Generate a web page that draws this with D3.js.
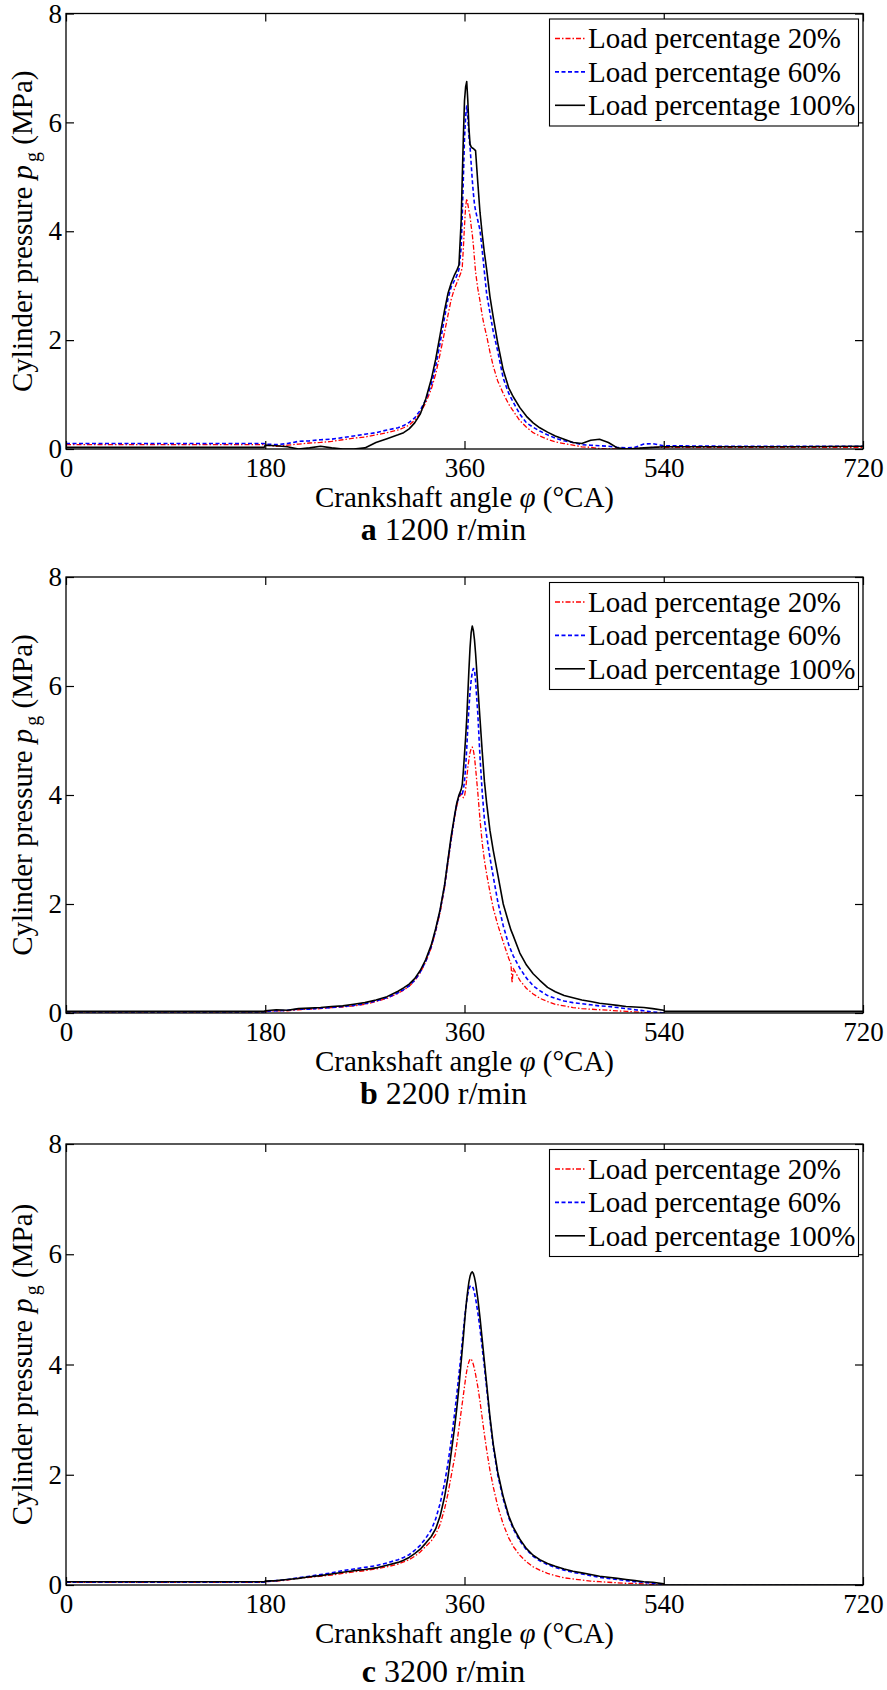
<!DOCTYPE html>
<html>
<head>
<meta charset="utf-8">
<script src="https://cdn.jsdelivr.net/npm/d3@7"></script>
<style>
  body { margin: 0; background: #fff; }
  svg text { font-family: "Liberation Serif", "Times New Roman", serif; fill: #000; }
</style>
</head>
<body>
<div class="plot-container"></div>
<script>
// *************************************
// DATA
// *************************************

const crankAngles = [
  0, 90, 179, 180,
  190, 200, 210, 220, 230, 240, 250, 260, 270, 280, 290, 300,
  305, 310, 315, 320, 325, 330,
  334, 338, 342, 345, 348, 351, 353, 355, 357, 358, 359,
  360, 361, 362, 363, 364, 365, 366, 367, 368, 369, 370,
  372, 374, 376, 378, 380,
  383, 386, 390, 395,
  400, 402, 403, 404,
  410, 416, 422, 428, 435, 442, 450, 458, 466, 474, 482, 490, 498, 506, 514, 522, 530,
  540, 541, 600, 660, 720
];

// a: 1200 r/min
const load20At1200 = [
  0.08, 0.08, 0.08, 0.07,
  0.05, 0.07, 0.09, 0.11, 0.12, 0.14, 0.17, 0.2, 0.22, 0.26, 0.3, 0.35,
  0.39, 0.44, 0.53, 0.66, 0.85, 1.1,
  1.38, 1.75, 2.15, 2.45, 2.75, 2.95, 3.05, 3.15, 3.25, 3.35, 3.7,
  4.1, 4.45, 4.6, 4.5, 4.38, 4.28, 4.1, 3.95, 3.75, 3.5, 3.25,
  2.95, 2.72, 2.45, 2.25, 2.08,
  1.78, 1.52, 1.25, 1.02,
  0.82, 0.76, 0.73, 0.7,
  0.52, 0.4, 0.3, 0.24, 0.18, 0.13, 0.1, 0.07, 0.04, 0.03, 0.01, 0.0, 0.0, 0.0, 0.01, 0.02, 0.03,
  0.03, 0.03, 0.03, 0.03, 0.03
];
const load60At1200 = [
  0.1, 0.1, 0.1, 0.09,
  0.08, 0.1, 0.14, 0.15, 0.17, 0.18, 0.21, 0.24, 0.27, 0.3, 0.35, 0.39,
  0.43, 0.49, 0.57, 0.71, 0.9, 1.18,
  1.52, 1.95, 2.42, 2.75, 2.98, 3.1, 3.18, 3.3, 3.7, 4.3, 5.0,
  5.7, 6.1, 6.3, 6.1, 5.75, 5.55, 5.25, 4.95, 4.7, 4.5, 4.38,
  4.2, 4.02, 3.65, 3.25, 2.85,
  2.5, 2.15, 1.8, 1.3,
  1.02, 0.94, 0.9, 0.86,
  0.64, 0.48, 0.4, 0.33, 0.26, 0.2, 0.15, 0.12, 0.08, 0.07, 0.06, 0.05, 0.03, 0.02, 0.03, 0.09, 0.1,
  0.06, 0.06, 0.05, 0.05, 0.05
];
const load100At1200 = [
  0.03, 0.03, 0.03, 0.07,
  0.06, 0.04, 0.0, 0.02, 0.05, 0.02, 0.0, 0.0, 0.02, 0.12, 0.19, 0.26,
  0.3, 0.37, 0.48, 0.64, 0.92, 1.28,
  1.65, 2.1, 2.55, 2.85, 3.05, 3.2, 3.28, 3.38, 4.2, 5.0, 5.75,
  6.4, 6.65, 6.75, 6.4, 5.9, 5.6, 5.55, 5.53, 5.52, 5.5, 5.48,
  4.9, 4.35, 3.95, 3.6, 3.3,
  2.8, 2.42, 1.95, 1.45,
  1.12, 1.04, 1.0, 0.96,
  0.76, 0.6, 0.48, 0.39, 0.31, 0.24, 0.18, 0.12, 0.1, 0.16, 0.18, 0.12, 0.02, 0.0, 0.01, 0.02, 0.03,
  0.04, 0.04, 0.04, 0.04, 0.05
];

// b: 2200 r/min
const load20At2200 = [
  0.02, 0.02, 0.02, 0.03,
  0.04, 0.04, 0.06, 0.07, 0.08, 0.1, 0.11, 0.13, 0.16, 0.21, 0.27, 0.36,
  0.42, 0.49, 0.59, 0.74, 0.94, 1.2,
  1.5, 1.85, 2.3, 2.75, 3.18, 3.58, 3.8, 3.95, 4.02, 3.98, 3.95,
  3.98, 4.1, 4.3, 4.5, 4.65, 4.78, 4.85, 4.88, 4.82, 4.7, 4.5,
  4.05, 3.55, 3.12, 2.8, 2.55,
  2.22, 1.92, 1.62, 1.3,
  1.0, 0.9, 0.55, 0.82,
  0.6, 0.45, 0.35, 0.27, 0.21, 0.16, 0.13, 0.1, 0.08, 0.07, 0.06, 0.05, 0.04, 0.03, 0.02, 0.01, 0.0,
  -0.01, -0.03, -0.03, -0.03, -0.03
];
const load60At2200 = [
  0.02, 0.02, 0.02, 0.03,
  0.04, 0.05, 0.07, 0.07, 0.09, 0.1, 0.12, 0.14, 0.17, 0.22, 0.28, 0.37,
  0.43, 0.5, 0.6, 0.75, 0.95, 1.22,
  1.52, 1.88, 2.33, 2.78, 3.2, 3.6, 3.83, 3.98, 4.05, 4.02, 4.1,
  4.25, 4.5, 4.85, 5.25, 5.6, 5.9, 6.1, 6.25, 6.32, 6.3, 6.1,
  5.5, 4.7, 4.05, 3.55, 3.25,
  2.85, 2.5, 2.05, 1.6,
  1.25, 1.15, 1.1, 1.05,
  0.82, 0.64, 0.5, 0.41, 0.32, 0.27, 0.22, 0.19, 0.17, 0.15, 0.13, 0.12, 0.1, 0.08, 0.06, 0.04, 0.02,
  0.0, -0.03, -0.03, -0.03, -0.03
];
const load100At2200 = [
  0.03, 0.03, 0.03, 0.04,
  0.06, 0.05, 0.08, 0.09, 0.1, 0.12, 0.13, 0.16, 0.19, 0.24, 0.3, 0.4,
  0.46, 0.53, 0.63, 0.78, 0.98, 1.25,
  1.55, 1.9, 2.35, 2.8, 3.25, 3.62, 3.85, 4.0, 4.1, 4.2, 4.45,
  4.75, 5.05, 5.4, 5.85, 6.3, 6.7, 6.98, 7.1, 7.02, 6.85, 6.6,
  6.0, 5.4, 4.8, 4.25, 3.85,
  3.35, 2.98, 2.55, 2.0,
  1.65, 1.52, 1.47, 1.42,
  1.1, 0.88, 0.72, 0.6, 0.47, 0.39, 0.32, 0.28, 0.24, 0.21, 0.18, 0.16, 0.14, 0.12, 0.11, 0.1, 0.08,
  0.05, 0.03, 0.03, 0.03, 0.03
];

// c: 3200 r/min
const load20At3200 = [
  0.05, 0.05, 0.05, 0.06,
  0.07, 0.09, 0.12, 0.14, 0.16, 0.18, 0.21, 0.24, 0.26, 0.29, 0.33, 0.38,
  0.42, 0.46, 0.52, 0.6, 0.7, 0.8,
  0.92, 1.1, 1.38, 1.65, 1.98, 2.3, 2.55, 2.85, 3.15, 3.3, 3.45,
  3.6, 3.75, 3.88, 3.98, 4.05, 4.1, 4.1, 4.06, 4.0, 3.92, 3.82,
  3.6, 3.33, 3.03, 2.73, 2.45,
  2.08, 1.78, 1.43, 1.1,
  0.85, 0.78, 0.74, 0.7,
  0.54, 0.42, 0.33, 0.27, 0.21, 0.17, 0.13, 0.11, 0.09, 0.07, 0.06, 0.05, 0.04, 0.03, 0.03, 0.02, 0.01,
  0.0, -0.01, -0.01, -0.01, -0.01
];
const load60At3200 = [
  0.05, 0.05, 0.05, 0.06,
  0.08, 0.1, 0.13, 0.16, 0.19, 0.22, 0.26, 0.29, 0.32, 0.35, 0.4, 0.46,
  0.5, 0.55, 0.63, 0.72, 0.85, 1.0,
  1.2, 1.48, 1.85, 2.2, 2.62, 3.1, 3.45, 3.82, 4.2, 4.42, 4.62,
  4.82, 5.0, 5.15, 5.28, 5.37, 5.42, 5.43, 5.42, 5.38, 5.3, 5.2,
  4.95, 4.65, 4.3, 3.95, 3.57,
  3.0, 2.5, 2.0, 1.56,
  1.22, 1.12, 1.07, 1.02,
  0.8, 0.64, 0.52, 0.44, 0.37, 0.32, 0.27, 0.23, 0.2, 0.17, 0.14, 0.12, 0.1, 0.08, 0.06, 0.05, 0.03,
  0.01, -0.01, -0.01, -0.01, -0.01
];
const load100At3200 = [
  0.06, 0.06, 0.06, 0.07,
  0.08, 0.1, 0.12, 0.15, 0.17, 0.2, 0.23, 0.26, 0.28, 0.31, 0.36, 0.41,
  0.45, 0.5, 0.57, 0.65, 0.76, 0.88,
  1.02, 1.25, 1.6, 1.95, 2.4, 2.85, 3.2, 3.6, 4.05, 4.28, 4.5,
  4.75, 4.98, 5.18, 5.35, 5.5, 5.6, 5.66, 5.68, 5.65, 5.58, 5.48,
  5.2, 4.85, 4.45, 4.05, 3.65,
  3.05, 2.55, 2.05, 1.6,
  1.25, 1.15, 1.1, 1.05,
  0.83, 0.66, 0.54, 0.46, 0.39, 0.34, 0.29, 0.25, 0.22, 0.19, 0.16, 0.14, 0.12, 0.1, 0.08, 0.06, 0.05,
  0.02, 0.0, 0.0, 0.0, 0.0
];

const loadLabels = ["Load percentage 20%", "Load percentage 60%", "Load percentage 100%"];
const speedLabels = ["1200 r/min", "2200 r/min", "3200 r/min"];
const panelLetters = ["a", "b", "c"];
const xTicks = [0, 180, 360, 540, 720];
const yTicks = [0, 2, 4, 6, 8];

const pressureByPanel = [
  [load20At1200, load60At1200, load100At1200],
  [load20At2200, load60At2200, load100At2200],
  [load20At3200, load60At3200, load100At3200]
];

// *************************************
// LAYOUT AND STYLE
// *************************************

const width = 887, height = 1690;
const plotLeft = 66, plotRight = 863;
const panelTops = [13.5, 577, 1144];
const panelBottoms = [449, 1013, 1585];
const captionOffsets = [91, 91, 97]; // caption baseline below the x axis

const seriesStyles = [
  { color: "#ff0000", dash: "5,2,1.5,2", width: 1.3 },
  { color: "#0000ff", dash: "4,2.5", width: 1.6 },
  { color: "#000000", dash: null, width: 1.6 }
];

pressureByPanel.flat().forEach((values, i) => {
  if (values.length !== crankAngles.length) {
    throw new Error(`series ${i} has ${values.length} values, expected ${crankAngles.length}`);
  }
});

const svg = d3.select("div.plot-container")
              .append("svg")
              .attr("width", width)
              .attr("height", height);

const x = d3.scaleLinear().domain([0, 720]).range([plotLeft, plotRight]);

// *************************************
// PANELS
// *************************************

let styleAxis = (g, size) => {
  g.attr("font-family", '"Liberation Serif", "Times New Roman", serif')
   .attr("font-size", size);
  g.select(".domain").remove();
  g.selectAll(".tick line").attr("stroke", "#000").attr("stroke-width", 1.2);
};

pressureByPanel.forEach((series, i) => {
  const top = panelTops[i], bottom = panelBottoms[i];
  const y = d3.scaleLinear().domain([0, 8]).range([bottom, top]);

  svg.append("clipPath")
     .attr("id", `clip-${i}`)
     .append("rect")
     .attr("x", plotLeft)
     .attr("y", top)
     .attr("width", plotRight - plotLeft)
     .attr("height", bottom - top);

  const line = d3.line()
                 .x((d) => x(d[0]))
                 .y((d) => y(d[1]));

  // pressure traces (20% first so the 100% trace sits on top)
  const traces = svg.append("g").attr("clip-path", `url(#clip-${i})`);
  series.forEach((values, k) => {
    traces.append("path")
          .datum(d3.zip(crankAngles, values))
          .attr("d", line)
          .attr("fill", "none")
          .attr("stroke", seriesStyles[k].color)
          .attr("stroke-width", seriesStyles[k].width)
          .attr("stroke-dasharray", seriesStyles[k].dash)
          .attr("stroke-linejoin", "round");
  });

  // axes: ticks point inward on all four sides
  svg.append("g")
     .attr("transform", `translate(0,${bottom})`)
     .call(d3.axisBottom(x).tickValues(xTicks).tickSizeInner(-8).tickSizeOuter(0).tickPadding(9))
     .call((g) => styleAxis(g, 27));

  svg.append("g")
     .attr("transform", `translate(0,${top})`)
     .call(d3.axisTop(x).tickValues(xTicks).tickSizeInner(-8).tickSizeOuter(0).tickFormat(""))
     .call((g) => styleAxis(g, 27));

  svg.append("g")
     .attr("transform", `translate(${plotLeft},0)`)
     .call(d3.axisLeft(y).tickValues(yTicks).tickSizeInner(-8).tickSizeOuter(0).tickPadding(4))
     .call((g) => styleAxis(g, 27));

  svg.append("g")
     .attr("transform", `translate(${plotRight},0)`)
     .call(d3.axisRight(y).tickValues(yTicks).tickSizeInner(-8).tickSizeOuter(0).tickFormat(""))
     .call((g) => styleAxis(g, 27));

  svg.append("rect")
     .attr("x", plotLeft)
     .attr("y", top)
     .attr("width", plotRight - plotLeft)
     .attr("height", bottom - top)
     .attr("fill", "none")
     .attr("stroke", "#000")
     .attr("stroke-width", 1.3);

  // y label
  const yLabel = svg.append("text")
                    .attr("transform", `translate(31.5,${(top + bottom) / 2}) rotate(-90)`)
                    .attr("text-anchor", "middle")
                    .attr("font-size", 29);
  yLabel.append("tspan").text("Cylinder pressure ");
  yLabel.append("tspan").attr("font-style", "italic").text("p");
  yLabel.append("tspan").attr("font-size", 20).attr("dx", 3).attr("dy", 7).text("g");
  yLabel.append("tspan").attr("dy", -7).text(" (MPa)");

  // x label
  const xLabel = svg.append("text")
                    .attr("x", (plotLeft + plotRight) / 2)
                    .attr("y", bottom + 58)
                    .attr("text-anchor", "middle")
                    .attr("font-size", 29);
  xLabel.append("tspan").text("Crankshaft angle ");
  xLabel.append("tspan").attr("font-style", "italic").text("\u03c6");
  xLabel.append("tspan").text(" (\u00b0CA)");

  // panel caption
  const caption = svg.append("text")
                     .attr("x", width / 2)
                     .attr("y", bottom + captionOffsets[i])
                     .attr("text-anchor", "middle")
                     .attr("font-size", 32);
  caption.append("tspan").attr("font-weight", "bold").text(panelLetters[i]);
  caption.append("tspan").text(" " + speedLabels[i]);

  // legend
  const legend = svg.append("g")
                    .attr("transform", `translate(549.5,${top + 5.5})`);
  legend.append("rect")
        .attr("width", 309)
        .attr("height", 107)
        .attr("fill", "#fff")
        .attr("stroke", "#000")
        .attr("stroke-width", 1.1);
  loadLabels.forEach((label, k) => {
    legend.append("line")
          .attr("x1", 5.5)
          .attr("x2", 35.5)
          .attr("y1", 19.5 + 33.4 * k)
          .attr("y2", 19.5 + 33.4 * k)
          .attr("stroke", seriesStyles[k].color)
          .attr("stroke-width", seriesStyles[k].width)
          .attr("stroke-dasharray", seriesStyles[k].dash);
    legend.append("text")
          .attr("x", 38.5)
          .attr("y", 29.3 + 33.4 * k)
          .attr("font-size", 29)
          .text(label);
  });
});
</script>
</body>
</html>
